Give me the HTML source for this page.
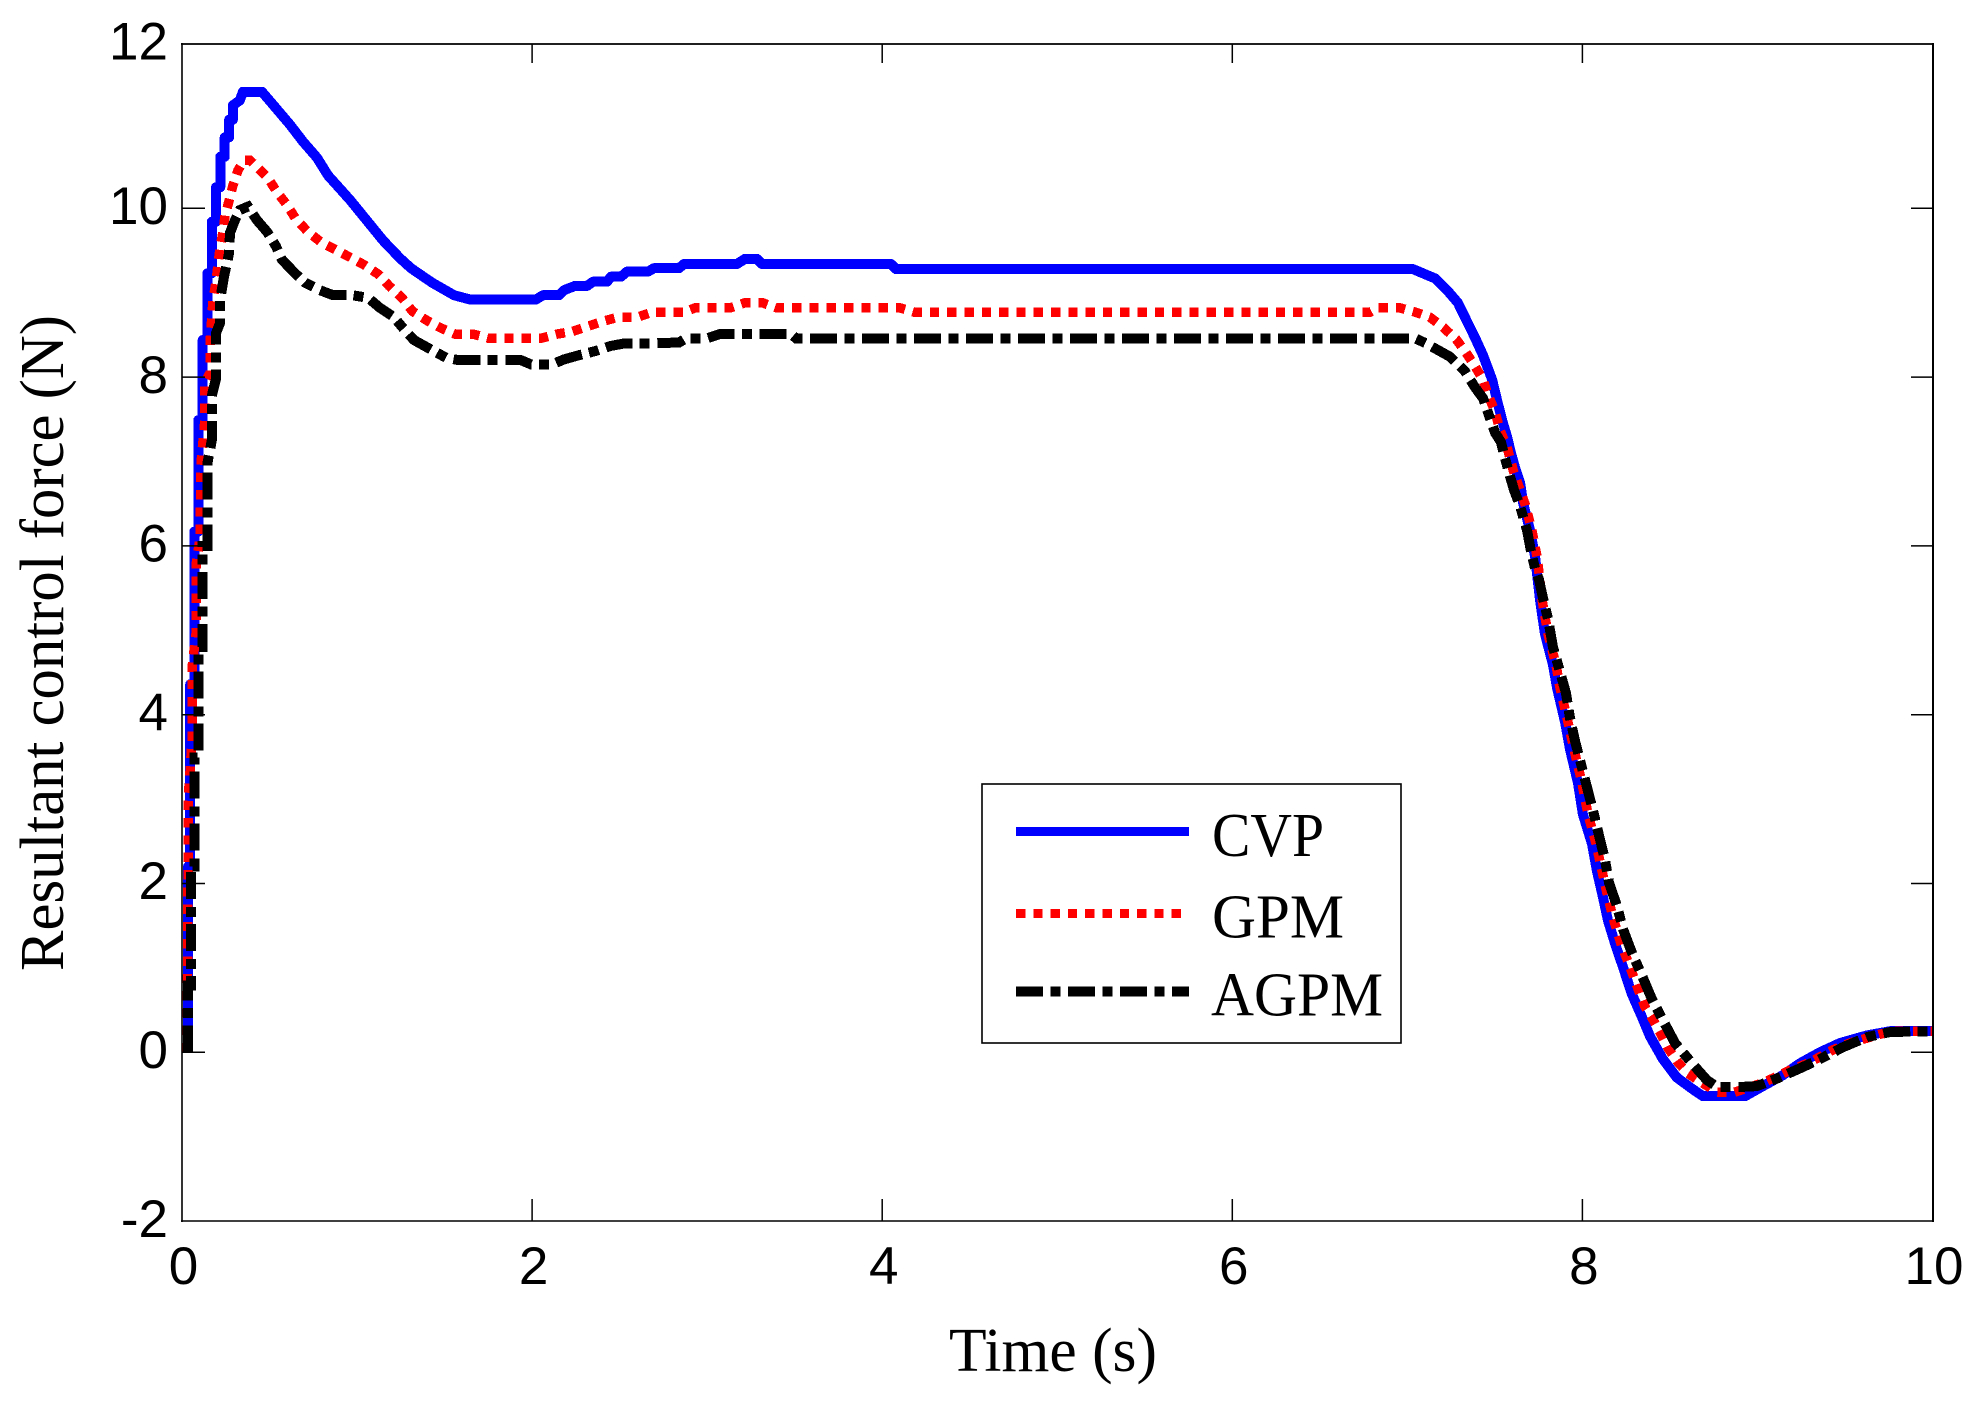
<!DOCTYPE html>
<html lang="en">
<head>
<meta charset="utf-8">
<title>Resultant control force</title>
<style>
html,body{margin:0;padding:0;background:#fff;width:1983px;height:1404px;overflow:hidden}
svg{display:block}
.tick-label{font-family:"Liberation Sans",Arial,sans-serif;font-size:53px;fill:#000}
.serif{font-family:"Liberation Serif","Times New Roman",serif;font-size:62px;fill:#000}
</style>
</head>
<body>
<svg id="chart" xmlns="http://www.w3.org/2000/svg" width="1983" height="1404" viewBox="0 0 1983 1404">
  <rect x="0" y="0" width="1983" height="1404" fill="#fff"/>
  <g id="curves"></g>
  <g id="ticks"></g>
  <g stroke="#000" fill="none">
    <line x1="182" y1="43" x2="182" y2="1222" stroke-width="1.6"/>
    <line x1="181" y1="44" x2="1934" y2="44" stroke-width="1.7"/>
    <line x1="1933" y1="43" x2="1933" y2="1222" stroke-width="2"/>
    <line x1="181" y1="1221" x2="1934" y2="1221" stroke-width="1.4"/>
  </g>
  <g id="labels"></g>
  <text class="serif" x="949" y="1371" textLength="208" lengthAdjust="spacingAndGlyphs">Time (s)</text>
  <text class="serif" transform="translate(63,971) rotate(-90)" x="0" y="0" textLength="656" lengthAdjust="spacingAndGlyphs">Resultant control force (N)</text>
  <g>
    <rect x="982" y="784" width="419" height="259" fill="#fff" stroke="#000" stroke-width="1.6"/>
    <line x1="1016" y1="831.3" x2="1189" y2="831.3" stroke="#0000ff" stroke-width="9" shape-rendering="crispEdges"/>
    <line x1="1016" y1="913.3" x2="1181" y2="913.3" stroke="#ff0000" stroke-width="9" stroke-dasharray="9.3 8" shape-rendering="crispEdges"/>
    <line x1="1016" y1="991.7" x2="1189" y2="991.7" stroke="#000" stroke-width="10" stroke-dasharray="27 7.3 10 7.7" shape-rendering="crispEdges"/>
    <text class="serif" x="1212" y="856" textLength="112" lengthAdjust="spacingAndGlyphs">CVP</text>
    <text class="serif" x="1212" y="937.7" textLength="132" lengthAdjust="spacingAndGlyphs">GPM</text>
    <text class="serif" x="1211" y="1015.7" textLength="172" lengthAdjust="spacingAndGlyphs">AGPM</text>
  </g>
</svg>
<script>
const xTickValues = [0, 2, 4, 6, 8, 10];
const yTickValues = [-2, 0, 2, 4, 6, 8, 10, 12];
const xTickLabels = ["0", "2", "4", "6", "8", "10"];
const yTickLabels = ["-2", "0", "2", "4", "6", "8", "10", "12"];

const cvpTime = [.034,.034,.047,.047,.070,.070,.093,.093,.118,.118,.145,.145,.170,.170,.194,.194,.219,.219,.244,.244,.269,.269,.291,.291,.331,.348,.457,.560,.617,.691,.771,.834,.960,1.148,1.245,1.308,1.428,1.554,1.645,2.022,2.062,2.154,2.182,2.245,2.314,2.348,2.428,2.451,2.508,2.542,2.662,2.696,2.839,2.868,3.170,3.216,3.285,3.313,4.050,4.079,7.032,7.089,7.158,7.227,7.289,7.329,7.386,7.432,7.484,7.512,7.541,7.570,7.592,7.615,7.644,7.661,7.701,7.730,7.758,7.786,7.832,7.855,7.901,7.929,7.975,8.003,8.055,8.083,8.118,8.146,8.186,8.232,8.283,8.340,8.386,8.460,8.540,8.632,8.689,8.929,9.015,9.146,9.243,9.357,9.472,9.626,9.757,10];
const cvpForce = [0,2.20,2.20,4.36,4.36,6.17,6.17,7.49,7.49,8.44,8.44,9.23,9.23,9.84,9.84,10.25,10.25,10.61,10.61,10.84,10.84,11.05,11.05,11.22,11.28,11.38,11.38,11.13,10.99,10.79,10.60,10.39,10.10,9.62,9.41,9.29,9.12,8.97,8.92,8.92,8.97,8.97,9.03,9.08,9.08,9.13,9.13,9.19,9.19,9.25,9.25,9.29,9.29,9.34,9.34,9.40,9.40,9.34,9.34,9.28,9.28,9.23,9.17,9.03,8.88,8.71,8.47,8.26,7.97,7.73,7.49,7.29,7.10,6.93,6.75,6.51,6.18,5.87,5.36,4.96,4.59,4.32,3.91,3.59,3.19,2.82,2.47,2.15,1.83,1.56,1.29,1.01,.69,.42,.19,-.08,-.30,-.44,-.52,-.52,-.42,-.27,-.13,0,.11,.20,.25,.25];

const gpmTime = [.029,.034,.034,.057,.057,.080,.080,.103,.109,.131,.131,.160,.160,.177,.194,.217,.234,.246,.269,.291,.320,.354,.388,.423,.491,.543,.600,.651,.720,.800,.868,.960,1.040,1.120,1.183,1.257,1.317,1.400,1.480,1.560,1.662,1.754,2.051,2.142,2.231,2.314,2.402,2.491,2.602,2.685,2.868,2.931,3.131,3.216,3.316,3.399,4.102,4.182,6.787,6.832,6.958,7.044,7.129,7.204,7.278,7.335,7.386,7.432,7.461,7.501,7.529,7.570,7.604,7.644,7.673,7.712,7.741,7.770,7.803,7.849,7.872,7.918,7.952,7.998,8.032,8.078,8.112,8.146,8.180,8.220,8.272,8.329,8.357,8.397,8.443,8.489,8.546,8.603,8.683,8.769,8.860,8.946,9.032,9.129,9.197,9.289,9.432,9.529,9.712,9.797,10];
const gpmForce = [0,2.04,2.97,3.69,4.55,4.96,5.77,6.09,6.99,7.49,7.93,8.05,8.40,8.91,9.13,9.53,9.72,9.92,10.09,10.27,10.45,10.57,10.57,10.50,10.36,10.19,10.04,9.87,9.72,9.59,9.52,9.42,9.33,9.22,9.08,8.94,8.78,8.67,8.58,8.51,8.51,8.46,8.46,8.51,8.54,8.60,8.66,8.71,8.71,8.77,8.77,8.82,8.82,8.88,8.88,8.82,8.82,8.77,8.77,8.82,8.82,8.77,8.71,8.59,8.45,8.29,8.13,7.97,7.79,7.59,7.37,7.17,6.90,6.66,6.49,6.18,5.87,5.36,4.96,4.59,4.32,3.91,3.59,3.19,2.82,2.47,2.15,1.83,1.56,1.29,1.01,.69,.54,.41,.24,.05,-.12,-.25,-.36,-.47,-.48,-.42,-.36,-.27,-.20,-.13,.03,.11,.22,.25,.25];

const agpmTime = [.034,.034,.050,.050,.070,.070,.093,.093,.118,.118,.145,.145,.170,.170,.193,.194,.217,.217,.240,.269,.274,.303,.331,.377,.428,.486,.537,.571,.646,.703,.788,.863,.971,1.063,1.131,1.211,1.263,1.325,1.428,1.508,1.582,1.937,1.994,2.114,2.182,2.268,2.365,2.451,2.531,2.685,2.839,2.879,2.999,3.073,3.479,3.508,7.044,7.106,7.175,7.244,7.329,7.386,7.432,7.461,7.501,7.535,7.558,7.587,7.610,7.644,7.684,7.707,7.730,7.752,7.775,7.804,7.832,7.872,7.906,7.929,7.958,7.998,8.026,8.060,8.095,8.129,8.152,8.198,8.232,8.283,8.346,8.397,8.460,8.529,8.626,8.712,8.769,8.912,8.997,9.112,9.243,9.357,9.489,9.626,9.757,10];
const agpmForce = [0,.79,.79,2.20,2.20,3.49,3.49,4.80,4.80,6.00,6.00,6.98,7.25,7.78,7.97,8.52,8.64,8.91,9.19,9.47,9.71,9.86,9.98,10.02,9.86,9.72,9.55,9.39,9.23,9.12,9.03,8.97,8.97,8.94,8.82,8.71,8.58,8.44,8.32,8.23,8.20,8.20,8.15,8.15,8.21,8.26,8.31,8.37,8.40,8.40,8.41,8.46,8.46,8.51,8.51,8.46,8.46,8.40,8.32,8.24,8.07,7.88,7.75,7.58,7.34,7.23,7.04,6.82,6.66,6.47,6.18,5.93,5.73,5.60,5.38,5.13,4.80,4.51,4.26,3.96,3.69,3.37,3.14,2.87,2.57,2.28,2.01,1.73,1.46,1.18,.88,.63,.38,.11,-.13,-.33,-.41,-.41,-.40,-.31,-.19,-.08,.06,.18,.24,.25];

const NS = "http://www.w3.org/2000/svg";
const frameLeft = 182, frameRight = 1933, frameTop = 44, frameBottom = 1221;
function xScale(t) { return 182 + 175.05 * t; }
function yScale(f) { return 1052.3 - 84.4 * f; }

function linePath(times, forces) {
  let d = "";
  for (let i = 0; i < times.length; i++) {
    d += (i ? "L" : "M") + xScale(times[i]).toFixed(1) + " " + yScale(forces[i]).toFixed(1);
  }
  return d;
}

const curves = document.getElementById("curves");

const cvpLine = document.createElementNS(NS, "path");


cvpLine.setAttribute("d", linePath(cvpTime, cvpForce));
cvpLine.setAttribute("fill", "none");
cvpLine.setAttribute("stroke", "#0000ff");
cvpLine.setAttribute("stroke-width", "10");
cvpLine.setAttribute("stroke-linejoin", "round");
cvpLine.setAttribute("shape-rendering", "crispEdges");
curves.appendChild(cvpLine);

const gpmLine = document.createElementNS(NS, "path");


gpmLine.setAttribute("d", linePath(gpmTime, gpmForce));
gpmLine.setAttribute("fill", "none");
gpmLine.setAttribute("stroke", "#ff0000");
gpmLine.setAttribute("stroke-width", "9.5");
gpmLine.setAttribute("stroke-dasharray", "9.3 8");
gpmLine.setAttribute("shape-rendering", "crispEdges");
curves.appendChild(gpmLine);

const agpmLine = document.createElementNS(NS, "path");


agpmLine.setAttribute("d", linePath(agpmTime, agpmForce));
agpmLine.setAttribute("fill", "none");
agpmLine.setAttribute("stroke", "#000000");
agpmLine.setAttribute("stroke-width", "10");
agpmLine.setAttribute("stroke-dasharray", "27 7.3 10 7.7");
agpmLine.setAttribute("shape-rendering", "crispEdges");
curves.appendChild(agpmLine);

const ticksGroup = document.getElementById("ticks");
const labelsGroup = document.getElementById("labels");

function addTick(x1, y1, x2, y2) {
  const tick = document.createElementNS(NS, "line");
  
  
  tick.setAttribute("x1", x1);
  tick.setAttribute("y1", y1);
  tick.setAttribute("x2", x2);
  tick.setAttribute("y2", y2);
  tick.setAttribute("stroke", "#000");
  tick.setAttribute("stroke-width", "1.5");
  ticksGroup.appendChild(tick);
}

xTickValues.forEach(function (v, i) {
  const x = xScale(v);
  if (i > 0 && i < xTickValues.length - 1) {
    addTick(x, frameBottom, x, frameBottom - 22);
    addTick(x, frameTop, x, frameTop + 19);
  }
  const label = document.createElementNS(NS, "text");
  
  
  label.setAttribute("class", "tick-label");
  label.setAttribute("x", x + 1.5);
  label.setAttribute("y", 1284);
  label.setAttribute("text-anchor", "middle");
  label.textContent = xTickLabels[i];
  labelsGroup.appendChild(label);
});

yTickValues.forEach(function (v, i) {
  const y = yScale(v);
  if (y > frameTop + 2 && y < frameBottom - 2) {
    addTick(frameLeft, y, frameLeft + 23, y);
    addTick(frameRight, y, frameRight - 22, y);
  }
  const label = document.createElementNS(NS, "text");
  
  
  label.setAttribute("class", "tick-label");
  label.setAttribute("x", 168);
  label.setAttribute("y", Math.max(y, frameTop) + 15.7);
  label.setAttribute("text-anchor", "end");
  label.textContent = yTickLabels[i];
  labelsGroup.appendChild(label);
});
</script>
</body>
</html>
